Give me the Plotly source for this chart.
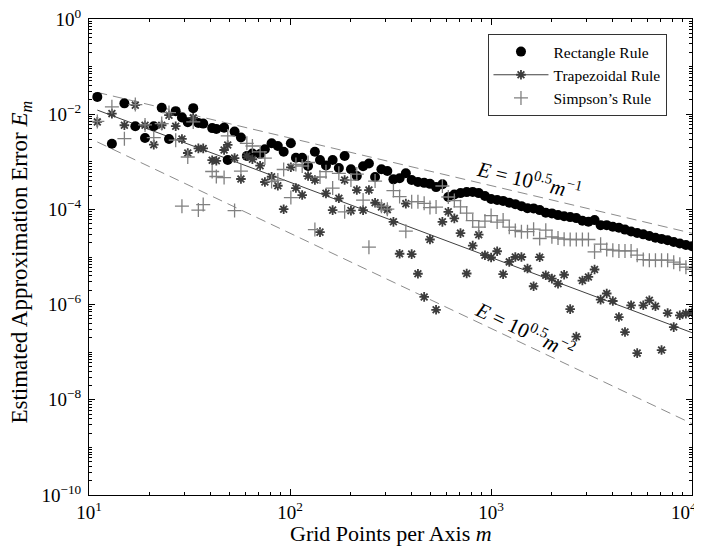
import plotly.graph_objects as go

# Grid points per axis (odd values)
m_points = [11, 13, 15, 17, 19, 21, 23, 25, 27, 29, 31, 33, 35, 37,
            41, 43, 47, 49, 53, 57, 61, 65, 71, 75, 81, 87, 93,
            101, 107, 115, 123, 133, 141, 151, 163, 175, 187,
            201, 215, 231, 247, 265, 285, 305, 327, 351, 377,
            403, 433, 465, 497, 533, 573, 613, 657, 705, 757,
            811, 869, 933,
            1001, 1073, 1149, 1233, 1321, 1417, 1519, 1629, 1747, 1873,
            2009, 2155, 2311, 2477, 2657, 2849, 3053, 3275, 3511, 3765,
            4037, 4329, 4641, 4977, 5337, 5723, 6135, 6579, 7055, 7565,
            8111, 8697, 9327, 10001]

rect_err = [2.31e-2, 2.39e-3, 1.69e-2, 5.59e-3, 3.17e-3, 5.59e-3, 1.37e-2, 3.02e-3, 1.16e-2, 8.57e-3, 6.79e-3, 1.34e-2, 6.56e-3, 6.34e-3,
            5.10e-3, 4.91e-3, 5.22e-3, 1.09e-3, 4.31e-3, 3.25e-3, 1.32e-3, 1.50e-3, 1.46e-3, 1.83e-3, 2.45e-3, 2.15e-3, 1.63e-3,
            2.45e-3, 1.22e-3, 1.22e-3, 8.17e-4, 1.63e-3, 1.09e-3, 8.36e-4, 1.09e-3, 7.40e-4, 1.32e-3,
            6.95e-4, 5.02e-4, 8.04e-4, 9.20e-4, 4.79e-4, 6.95e-4, 6.40e-4, 4.28e-4, 4.50e-4, 5.73e-4,
            4.14e-4, 3.76e-4, 3.61e-4, 3.44e-4, 2.94e-4, 3.37e-4, 1.82e-4, 2.05e-4, 2.20e-4, 2.31e-4,
            2.33e-4, 2.20e-4, 1.91e-4,
            1.65e-4, 1.57e-4, 1.51e-4, 1.38e-4, 1.29e-4, 1.17e-4, 1.06e-4, 1.05e-4, 9.66e-5, 8.48e-5,
            8.24e-5, 7.59e-5, 7.16e-5, 6.89e-5, 6.56e-5, 5.78e-5, 5.51e-5, 5.96e-5, 4.67e-5, 4.67e-5,
            4.31e-5, 4.12e-5, 3.76e-5, 3.44e-5, 3.20e-5, 2.99e-5, 2.77e-5, 2.54e-5, 2.40e-5, 2.24e-5,
            2.07e-5, 1.92e-5, 1.79e-5, 1.69e-5]

trap_err = [6.89e-3, 1.03e-2, 5.86e-3, 1.55e-2, 5.86e-3, 2.29e-3, 5.86e-3, 9.53e-3, 5.59e-3, 3.02e-3, 1.53e-3, 8.36e-3, 1.91e-3, 1.91e-3,
            1.08e-3, 1.05e-3, 1.77e-3, 2.26e-3, 1.20e-3, 4.35e-4, 1.32e-3, 1.13e-3, 8.28e-4, 3.76e-4, 4.85e-4, 3.14e-4, 1.01e-4,
            7.66e-4, 2.81e-4, 2.00e-4, 5.02e-4, 4.14e-4, 3.33e-5, 2.17e-4, 9.66e-5, 1.71e-4, 4.14e-4,
            9.44e-5, 2.55e-4, 9.66e-5, 2.55e-4, 1.38e-4, 1.13e-4, 9.91e-5, 5.48e-5, 1.17e-5, 1.32e-4,
            1.15e-5, 4.45e-6, 1.45e-6, 2.33e-5, 7.78e-7, 5.48e-5, 8.89e-5, 6.47e-5, 3.17e-5, 4.50e-6,
            1.73e-5, 2.94e-5, 1.09e-5,
            9.75e-6, 1.32e-5, 4.35e-6, 7.89e-6, 1.00e-5, 1.00e-5, 5.73e-6, 2.43e-6, 9.91e-6, 4.14e-6,
            3.52e-6, 2.74e-6, 4.24e-6, 8.04e-7, 2.12e-7, 3.20e-6, 3.81e-6, 5.46e-6, 1.27e-6, 1.71e-6,
            1.19e-6, 5.48e-7, 2.65e-7, 9.66e-7, 9.57e-8, 9.66e-7, 1.23e-6, 9.20e-7, 1.11e-7, 6.65e-7,
            3.37e-7, 5.96e-7, 6.47e-7, 6.89e-7]

simp_err = [7.05e-3, 1.43e-2, 3.06e-3, 1.59e-2, 5.96e-3, 3.21e-3, 6.34e-3, 1.08e-2, 2.84e-3, 1.17e-4, 1.26e-3, 6.89e-3, 9.66e-5, 1.26e-4,
            6.25e-4, 4.91e-4, 4.67e-4, 3.49e-3, 9.44e-5, 6.40e-4, 2.45e-3, 2.15e-3, 1.61e-3, 1.20e-3, 3.85e-4, 4.14e-4, 6.89e-4,
            1.77e-4, 8.77e-4, 8.17e-4, 9.66e-4, 3.76e-5, 4.79e-4, 6.19e-4, 2.81e-4, 5.73e-4, 8.89e-5,
            4.14e-4, 5.53e-4, 1.57e-4, 1.61e-5, 3.94e-4, 1.17e-4, 1.01e-4, 2.49e-4, 1.86e-4, 3.49e-5,
            1.45e-4, 1.45e-4, 1.34e-4, 1.09e-4, 1.12e-4, 3.10e-4, 1.82e-4, 1.53e-4, 1.13e-4, 8.36e-5,
            5.81e-5, 4.24e-5, 5.68e-5,
            7.40e-5, 5.41e-5, 5.96e-5, 4.24e-5, 3.61e-5, 3.41e-5, 3.41e-5, 3.85e-5, 2.45e-5, 3.66e-5,
            2.65e-5, 2.51e-5, 2.37e-5, 2.33e-5, 2.33e-5, 2.33e-5, 2.33e-5, 1.28e-5, 1.86e-5, 1.44e-5,
            1.39e-5, 1.34e-5, 1.34e-5, 1.34e-5, 1.09e-5, 8.85e-6, 8.57e-6, 8.57e-6, 8.57e-6, 8.57e-6,
            7.78e-6, 7.05e-6, 6.10e-6, 5.53e-6]

# Reference / fit lines (end points)
line_m = [11, 10001]
ref_first_order = [2.875e-2, 3.162e-5]    # E = 10^-0.5 m^-1
ref_second_order = [2.613e-3, 3.161e-9]   # E = 10^-0.5 m^-2
trap_fit = [1.22e-2, 2.57e-7]

x_tick_vals = [10, 100, 1000, 10000]
x_tick_text = ["10<sup>1</sup>", "10<sup>2</sup>", "10<sup>3</sup>", ""]
x_last_label = "10<sup>4</sup>"
y_tick_vals = [1, 1e-2, 1e-4, 1e-6, 1e-8, 1e-10]
y_tick_text = ["10<sup>0</sup>", "10<sup>\u22122</sup>", "10<sup>\u22124</sup>",
               "10<sup>\u22126</sup>", "10<sup>\u22128</sup>", "10<sup>\u221210</sup>"]

FONT = "Liberation Serif"

x_minor = [k * 10 ** d for d in range(1, 4) for k in range(2, 10)]
y_minor = [k * 10.0 ** d for d in range(-10, 0) for k in range(1, 10)
           if not (k == 1 and d % 2 == 0)]

fig = go.Figure()

fig.add_trace(go.Scatter(x=line_m, y=ref_first_order, mode="lines",
                         line=dict(color="#8c8c8c", width=1, dash="10px,6px"),
                         showlegend=False, hoverinfo="skip"))
fig.add_trace(go.Scatter(x=line_m, y=ref_second_order, mode="lines",
                         line=dict(color="#8c8c8c", width=1, dash="10px,6px"),
                         showlegend=False, hoverinfo="skip"))
fig.add_trace(go.Scatter(x=line_m, y=trap_fit, mode="lines",
                         line=dict(color="#404040", width=1),
                         showlegend=False, hoverinfo="skip"))

fig.add_trace(go.Scatter(x=m_points, y=rect_err, mode="markers", name="Rectangle Rule",
                         marker=dict(symbol="circle", size=10, color="black",
                                     line=dict(width=0))))
fig.add_trace(go.Scatter(x=m_points, y=trap_err, mode="markers", name="Trapezoidal Rule",
                         showlegend=False,
                         marker=dict(symbol="asterisk-open", size=8, color="#3c3c3c",
                                     line=dict(width=1.8, color="#3c3c3c"))))
fig.add_trace(go.Scatter(x=[None], y=[None], mode="lines+markers", name="Trapezoidal Rule",
                         line=dict(color="#404040", width=1),
                         marker=dict(symbol="asterisk-open", size=8, color="#3c3c3c",
                                     line=dict(width=1.8, color="#3c3c3c"))))
fig.add_trace(go.Scatter(x=m_points, y=simp_err, mode="markers", name="Simpson\u2019s Rule",
                         marker=dict(symbol="cross-thin-open", size=10, color="#808080",
                                     line=dict(width=1.3, color="#808080"))))

axis_common = dict(type="log", showline=True, linecolor="black", linewidth=1,
                   mirror="allticks", ticks="inside", ticklen=6, tickcolor="black",
                   tickwidth=1, showgrid=False, zeroline=False, automargin=False,
                   ticklabeloverflow="allow",
                   tickfont=dict(family=FONT, size=19, color="black"))

fig.update_xaxes(range=[1, 4], tickvals=x_tick_vals, ticktext=x_tick_text,
                 minor=dict(tickvals=x_minor, ticks="inside", ticklen=3, tickcolor="black", showgrid=False),
                 **axis_common)
fig.update_yaxes(range=[-10, 0], tickvals=y_tick_vals, ticktext=y_tick_text,
                 ticklabelstandoff=3,
                 minor=dict(tickvals=y_minor, ticks="inside", ticklen=3, tickcolor="black", showgrid=False),
                 **axis_common)

# The page body adds an 8px offset, so the figure is sized to the visible area.
fig.update_layout(
    width=694, height=538,
    margin=dict(l=81, r=10, t=11, b=51, autoexpand=False),
    plot_bgcolor="white", paper_bgcolor="white",
    font=dict(family=FONT, color="black"),
    legend=dict(x=0.958, y=0.968, xanchor="right", yanchor="top",
                bgcolor="white", bordercolor="black", borderwidth=0.8,
                font=dict(family=FONT, size=15.5, color="black"),
                itemwidth=55, tracegroupgap=0),
    annotations=[
        dict(text=x_last_label, xref="x", yref="paper", x=4, y=0,
             xanchor="right", yanchor="top", xshift=7, yshift=-2, showarrow=False,
             font=dict(family=FONT, size=19, color="black")),
        dict(text="Grid Points per Axis <i>m</i>", xref="paper", yref="paper",
             x=0.5, y=0, xanchor="center", yanchor="top", yshift=-24, showarrow=False,
             font=dict(family=FONT, size=22, color="black")),
        dict(text="Estimated Approximation Error <i>E<sub>m</sub></i>", xref="paper", yref="paper",
             x=-0.113, y=0.49, xanchor="center", yanchor="middle", showarrow=False, textangle=-90,
             font=dict(family=FONT, size=23, color="black")),
        dict(text="<i>E</i> = 10<sup>0.5</sup><i>m</i><sup>\u22121</sup>", xref="x", yref="y",
             x=3.19, y=-3.38, showarrow=False, textangle=13.3,
             font=dict(family=FONT, size=21, color="black")),
        dict(text="<i>E</i> = 10<sup>0.5</sup><i>m</i><sup>\u22122</sup>", xref="x", yref="y",
             x=3.17, y=-6.52, showarrow=False, textangle=25.3,
             font=dict(family=FONT, size=21, color="black")),
    ],
)

fig.write_html("out.html")
